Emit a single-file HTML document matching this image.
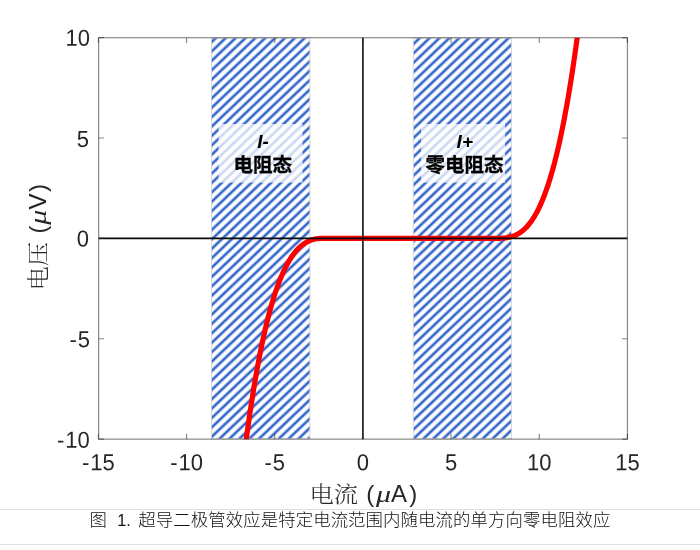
<!DOCTYPE html>
<html lang="zh"><head><meta charset="utf-8"><title>图 1</title>
<style>
html,body{margin:0;padding:0;background:#fff;}
body{width:700px;height:550px;overflow:hidden;position:relative;font-family:"Liberation Sans","Noto Sans CJK SC",sans-serif;}
svg{position:absolute;left:0;top:0;display:block;}
.tk text{font-family:"Liberation Sans",sans-serif;font-size:22px;fill:#262626;}
.al text{font-family:"Liberation Sans","Noto Serif CJK SC",serif;font-size:24px;fill:#262626;}
.al text.cj{font-family:"Liberation Serif","Noto Serif CJK SC",serif;font-size:24.3px;font-weight:300;}
.al text.mu{font-family:"Liberation Serif","DejaVu Serif",serif;font-style:italic;font-size:24px;}
.bx{font-family:"Liberation Sans","Noto Sans CJK SC",sans-serif;font-weight:bold;font-size:19px;fill:#000;}
.bx .cjb{font-size:19.5px;stroke:#000;stroke-width:0.3px;}
.cap text{font-family:"Liberation Sans","Noto Sans CJK SC",sans-serif;font-weight:300;font-size:17.42px;fill:#111;}
</style></head><body>
<svg width="700" height="550" viewBox="0 0 700 550">
<defs>
<pattern id="h" width="6.81" height="10" patternUnits="userSpaceOnUse" patternTransform="translate(211.5 42.1) rotate(46.41)">
<rect x="-1.33" y="0" width="2.66" height="10" fill="#3366c8"/><rect x="5.48" y="0" width="1.33" height="10" fill="#3366c8"/>
</pattern>
<pattern id="h2" width="6.81" height="10" patternUnits="userSpaceOnUse" patternTransform="translate(413.2 44.2) rotate(46.41)">
<rect x="-1.33" y="0" width="2.66" height="10" fill="#3366c8"/><rect x="5.48" y="0" width="1.33" height="10" fill="#3366c8"/>
</pattern>
<clipPath id="c"><rect x="98.65" y="37.7" width="528.80" height="401.45"/></clipPath>
</defs>
<rect x="0" y="0" width="700" height="550" fill="#fff"/>
<g stroke="#d0d0d0" stroke-width="0.8">
<rect x="211.4" y="38" width="98.5" height="400.8" fill="url(#h)"/>
<rect x="413.3" y="38" width="98.1" height="400.8" fill="url(#h2)"/>
</g>
<rect x="218.5" y="124" width="84.1" height="58.6" fill="#fff" fill-opacity="0.75"/>
<rect x="421.1" y="124" width="84" height="58.6" fill="#fff" fill-opacity="0.75"/>
<g class="bx" text-anchor="middle">
<text x="263" y="148.4" font-style="italic">I-</text>
<text x="262.7" y="172.4" class="cjb">电阻态</text>
<text x="464.8" y="148.4" font-style="italic">I+</text>
<text x="464.6" y="172.4" class="cjb">零电阻态</text>
</g>
<polyline clip-path="url(#c)" points="242.9,465.8 243.6,460.1 244.3,454.5 245.0,449.1 245.7,443.7 246.4,438.4 247.1,433.2 247.8,428.1 248.5,423.1 249.2,418.2 249.9,413.4 250.6,408.7 251.3,404.1 252.0,399.6 252.7,395.1 253.4,390.8 254.1,386.5 254.8,382.3 255.5,378.2 256.2,374.2 256.9,370.2 257.6,366.4 258.3,362.6 259.0,358.9 259.7,355.3 260.4,351.8 261.1,348.3 261.8,344.9 262.5,341.6 263.2,338.3 263.9,335.2 264.6,332.1 265.3,329.0 266.0,326.1 266.7,323.2 267.4,320.3 268.1,317.6 268.8,314.9 269.5,312.2 270.2,309.7 270.9,307.1 271.6,304.7 272.3,302.3 273.0,300.0 273.7,297.7 274.4,295.5 275.1,293.3 275.8,291.2 276.5,289.2 277.2,287.2 277.9,285.3 278.6,283.4 279.3,281.6 280.0,279.8 280.7,278.0 281.4,276.4 282.1,274.7 282.8,273.1 283.5,271.6 284.2,270.1 284.9,268.7 285.6,267.3 286.3,265.9 287.0,264.6 287.7,263.3 288.4,262.1 289.1,260.9 289.8,259.7 290.5,258.6 291.2,257.5 291.9,256.5 292.6,255.5 293.3,254.5 294.0,253.6 294.7,252.7 295.4,251.8 296.1,251.0 296.8,250.2 297.5,249.5 298.2,248.7 298.9,248.0 299.6,247.4 300.3,246.7 301.0,246.1 301.7,245.5 302.4,245.0 303.1,244.4 303.8,243.9 304.5,243.5 305.2,243.0 305.9,242.6 306.6,242.2 307.3,241.8 308.0,241.5 308.7,241.1 309.4,240.8 310.1,240.5 310.8,240.3 311.5,240.0 312.2,239.8 312.9,239.6 313.6,239.4 314.3,239.2 315.0,239.0 315.7,238.9 316.4,238.8 317.1,238.7 317.8,238.6 318.5,238.5 319.2,238.5 319.9,238.4 493.4,238.4 494.1,238.3 500.4,238.3 501.1,238.2 502.5,238.2 503.2,238.1 503.9,238.1 504.6,238.0 505.3,237.9 506.0,237.8 506.7,237.7 507.4,237.6 508.1,237.5 508.8,237.3 509.5,237.2 510.2,237.0 510.9,236.8 511.6,236.6 512.3,236.4 513.0,236.2 513.7,235.9 514.4,235.7 515.1,235.4 515.8,235.0 516.5,234.7 517.2,234.4 517.9,234.0 518.6,233.6 519.3,233.1 520.0,232.7 520.7,232.2 521.4,231.7 522.1,231.2 522.8,230.6 523.5,230.0 524.2,229.4 524.9,228.7 525.6,228.0 526.3,227.3 527.0,226.6 527.7,225.8 528.4,225.0 529.1,224.1 529.8,223.2 530.5,222.3 531.2,221.4 531.9,220.4 532.6,219.3 533.3,218.2 534.0,217.1 534.7,216.0 535.4,214.8 536.1,213.5 536.8,212.2 537.5,210.9 538.2,209.5 538.9,208.1 539.6,206.6 540.3,205.1 541.0,203.5 541.7,201.9 542.4,200.3 543.1,198.5 543.8,196.8 544.5,195.0 545.2,193.1 545.9,191.2 546.6,189.2 547.3,187.1 548.0,185.1 548.7,182.9 549.4,180.7 550.1,178.4 550.8,176.1 551.5,173.7 552.2,171.3 552.9,168.8 553.6,166.2 554.3,163.6 555.0,160.9 555.7,158.1 556.4,155.3 557.1,152.4 557.8,149.5 558.5,146.5 559.2,143.4 559.9,140.2 560.6,137.0 561.3,133.7 562.0,130.3 562.7,126.8 563.4,123.3 564.1,119.7 564.8,116.1 565.5,112.3 566.2,108.5 566.9,104.6 567.6,100.6 568.3,96.6 569.0,92.4 569.7,88.2 570.4,83.9 571.1,79.5 571.8,75.1 572.5,70.5 573.2,65.9 573.9,61.2 574.6,56.4 575.3,51.5 576.0,46.5 576.7,41.4 577.4,36.3 578.1,31.0 578.8,25.7 579.5,20.3 580.2,14.7 580.9,9.1" fill="none" stroke="#ff0000" stroke-width="5.2" stroke-linejoin="round"/>
<path d="M98.65 238.35 H627.45 M362.9 37.7 V439.15" stroke="#0a0a0a" stroke-width="1.55" fill="none"/>
<path d="M98.40 439.15 v-5.3 M98.40 37.7 v5.3 M186.57 439.15 v-5.3 M186.57 37.7 v5.3 M274.73 439.15 v-5.3 M274.73 37.7 v5.3 M362.90 439.15 v-5.3 M362.90 37.7 v5.3 M451.07 439.15 v-5.3 M451.07 37.7 v5.3 M539.23 439.15 v-5.3 M539.23 37.7 v5.3 M627.40 439.15 v-5.3 M627.40 37.7 v5.3 M98.65 439.10 h5.3 M627.45 439.10 h-5.3 M98.65 338.73 h5.3 M627.45 338.73 h-5.3 M98.65 238.35 h5.3 M627.45 238.35 h-5.3 M98.65 137.97 h5.3 M627.45 137.97 h-5.3 M98.65 37.60 h5.3 M627.45 37.60 h-5.3" stroke="#262626" stroke-opacity="0.55" stroke-width="1.15" fill="none"/>
<rect x="98.65" y="37.7" width="528.80" height="401.45" fill="none" stroke="#262626" stroke-opacity="0.55" stroke-width="1.2"/>
<g class="tk"><text transform="translate(98.4 470.3) rotate(0.05) scale(1 1.05)" text-anchor="middle">-<tspan dx="0.9">15</tspan></text><text transform="translate(186.6 470.3) rotate(0.05) scale(1 1.05)" text-anchor="middle">-<tspan dx="0.9">10</tspan></text><text transform="translate(274.7 470.3) rotate(0.05) scale(1 1.05)" text-anchor="middle">-<tspan dx="0.9">5</tspan></text><text transform="translate(362.9 470.3) rotate(0.05) scale(1 1.05)" text-anchor="middle">0</text><text transform="translate(451.1 470.3) rotate(0.05) scale(1 1.05)" text-anchor="middle">5</text><text transform="translate(539.2 470.3) rotate(0.05) scale(1 1.05)" text-anchor="middle">10</text><text transform="translate(627.4 470.3) rotate(0.05) scale(1 1.05)" text-anchor="middle">15</text><text transform="translate(89.7 447.7) rotate(0.05) scale(1 1.05)" text-anchor="end">-<tspan dx="0.9">10</tspan></text><text transform="translate(89.9 347.3) rotate(0.05) scale(1 1.05)" text-anchor="end">-<tspan dx="0.9">5</tspan></text><text transform="translate(88.9 246.4) rotate(0.05) scale(1 1.05)" text-anchor="end">0</text><text transform="translate(89.0 147.0) rotate(0.05) scale(1 1.05)" text-anchor="end">5</text><text transform="translate(89.9 45.7) rotate(0.05) scale(1 1.05)" text-anchor="end">10</text></g>
<g class="al" transform="translate(312.5 502.1)"><text class="cj" transform="translate(-3 0) scale(1 0.887)">电流</text><text x="53.8">(</text><text class="mu" transform="translate(63.4 0) scale(1.25 1)">μ</text><text x="78.4">A</text><text x="96.8">)</text></g>
<g class="al" transform="translate(46 287.6) rotate(-90)"><text class="cj" transform="translate(-3 0) scale(1 0.887)">电压</text><text x="54.2">(</text><text class="mu" transform="translate(62.9 0) scale(1.25 1)">μ</text><text x="78.1">V</text><text x="95.6">)</text></g>
<path d="M0 509.5H700M0 544.5H700" stroke="#e0e0e0" stroke-width="1" fill="none"/>
<g class="cap"><text x="89.6" y="526.3">图</text><text x="117.3" y="526.3" style="font-size:16.2px">1.</text><text x="138.3" y="526.3" textLength="472" lengthAdjust="spacing">超导二极管效应是特定电流范围内随电流的单方向零电阻效应</text></g>
</svg>
</body></html>
